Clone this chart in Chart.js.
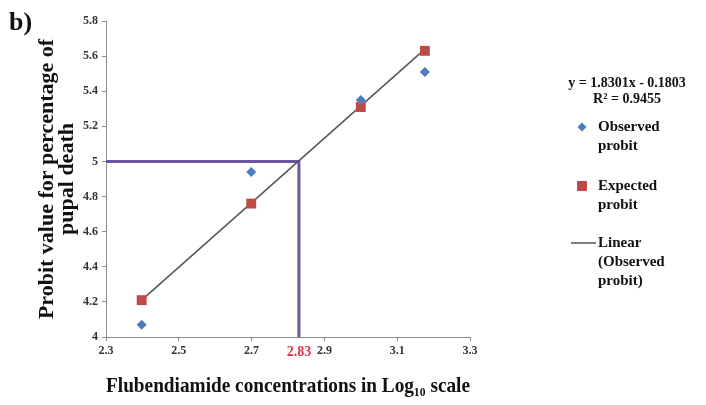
<!DOCTYPE html>
<html>
<head>
<meta charset="utf-8">
<script src="https://cdn.jsdelivr.net/npm/chart.js@4.4.0/dist/chart.umd.min.js"></script>
<style>
    html, body { margin: 0; padding: 0; background: #fff; }
    #wrap { width: 706px; height: 405px; position: relative; }
</style>
</head>
<body>
<div id="wrap"><canvas id="probitChart"></canvas></div>
<script>
// log10 of the flubendiamide concentrations
const logConc = [2.398, 2.699, 3.0, 3.176];
const observedProbit = [4.07, 4.94, 5.35, 5.51];
const expectedProbit = [4.21, 4.76, 5.31, 5.63];

// trend line end points (y = 1.8301x - 0.1803)
const trendX = [2.398, 3.176];
const trendY = [4.21, 5.64];

// LC50 read-off guide
const lc50X = [2.3, 2.83, 2.83];
const lc50Y = [5, 5, 4];
const lc50Label = 2.83;

const xTicks = [2.3, 2.5, 2.7, 2.9, 3.1, 3.3];

const equationText = ['y = 1.8301x - 0.1803', 'R² = 0.9455'];
const legendLabels = [['Observed', 'probit'], ['Expected', 'probit'], ['Linear', '(Observed', 'probit)']];

const serif = "'Liberation Serif', 'Times New Roman', serif";

const toPoints = (xs, ys) => xs.map((x, i) => ({ x: x, y: ys[i] }));

// hand drawn legend on the right, like the excel one
const sideLegend = {
    id: 'sideLegend',
    afterDraw(chart) {
        const ctx = chart.ctx;
        const ds = chart.data.datasets;
        const left = chart.chartArea.right + 100;
        ctx.save();
        ctx.fillStyle = '#111';
        ctx.textBaseline = 'middle';
        ctx.textAlign = 'center';
        ctx.font = 'bold 14px ' + serif;
        ctx.fillText(equationText[0], left + 57, 83);
        ctx.fillText(equationText[1], left + 57, 99);

        ctx.textAlign = 'left';
        ctx.font = 'bold 15px ' + serif;
        const rows = [127, 186, 243];
        rows.forEach((y, i) => {
            const d = ds[i];
            if (i === 0) {
                ctx.fillStyle = d.backgroundColor;
                ctx.beginPath();
                ctx.moveTo(left + 12, y - 4.5);
                ctx.lineTo(left + 16.5, y);
                ctx.lineTo(left + 12, y + 4.5);
                ctx.lineTo(left + 7.5, y);
                ctx.closePath();
                ctx.fill();
            } else if (i === 1) {
                ctx.fillStyle = d.backgroundColor;
                ctx.fillRect(left + 7, y - 5, 10, 10);
            } else {
                ctx.strokeStyle = d.borderColor;
                ctx.lineWidth = 1.5;
                ctx.beginPath();
                ctx.moveTo(left + 1, y);
                ctx.lineTo(left + 26, y);
                ctx.stroke();
            }
            ctx.fillStyle = '#111';
            legendLabels[i].forEach((t, j) => {
                ctx.fillText(t, left + 28, y + j * 19);
            });
        });

        ctx.font = 'bold 26px ' + serif;
        ctx.textAlign = 'left';
        ctx.fillText('b)', 9, 23);
        ctx.restore();
    }
};

const probitCtx = document.getElementById('probitChart').getContext('2d');
const probitChart = new Chart(probitCtx, {
    type: 'scatter',
    data: {
        datasets: [
            {
                label: 'Observed probit',
                data: toPoints(logConc, observedProbit),
                pointStyle: 'rectRot',
                pointRadius: 5,
                backgroundColor: '#4A7EBB',
                borderColor: '#4A7EBB',
                borderWidth: 0,
                order: 1
            },
            {
                label: 'Expected probit',
                data: toPoints(logConc, expectedProbit),
                pointStyle: 'rect',
                pointRadius: 7,
                backgroundColor: '#BE4B48',
                borderColor: '#BE4B48',
                borderWidth: 0,
                order: 2
            },
            {
                label: 'Linear (Observed probit)',
                type: 'line',
                data: toPoints(trendX, trendY),
                borderColor: '#555555',
                borderWidth: 1.5,
                pointRadius: 0,
                fill: false,
                order: 3
            },
            {
                label: 'LC50',
                type: 'line',
                data: toPoints(lc50X, lc50Y),
                borderColor: '#6E55A3',
                borderWidth: 3,
                pointRadius: 0,
                fill: false,
                order: 4
            }
        ]
    },
    options: {
        responsive: true,
        maintainAspectRatio: false,
        animation: false,
        layout: {
            padding: { left: 10, right: 236, top: 21, bottom: 6 }
        },
        scales: {
            x: {
                type: 'linear',
                min: 2.3,
                max: 3.3,
                afterBuildTicks: function(axis) {
                    const vals = xTicks.concat([lc50Label]).sort((a, b) => a - b);
                    axis.ticks = vals.map(v => ({ value: v }));
                },
                afterFit: function(scale) {
                    scale.height = 62;
                },
                border: { color: '#8C8C8C', width: 1 },
                grid: {
                    display: true,
                    drawOnChartArea: false,
                    tickLength: 4,
                    color: c => (c.tick && c.tick.value === lc50Label) ? 'rgba(0,0,0,0)' : '#8C8C8C'
                },
                ticks: {
                    autoSkip: false,
                    maxRotation: 0,
                    padding: 3,
                    callback: v => (v === lc50Label) ? v.toFixed(2) : v.toFixed(1),
                    color: c => (c.tick && c.tick.value === lc50Label) ? '#E0304A' : '#333',
                    font: c => (c.tick && c.tick.value === lc50Label)
                        ? { family: serif, size: 14, weight: 'bold' }
                        : { family: serif, size: 12, weight: 'bold' }
                },
                title: {
                    display: true,
                    text: 'Flubendiamide concentrations in Log₁₀ scale',
                    color: '#111',
                    font: { family: serif, size: 21, weight: 'bold' },
                    padding: { top: 14, bottom: 0 }
                }
            },
            y: {
                min: 4,
                max: 5.8,
                afterFit: function(scale) {
                    scale.width = 96;
                },
                border: { color: '#8C8C8C', width: 1 },
                grid: {
                    display: true,
                    drawOnChartArea: false,
                    tickLength: 4,
                    color: '#8C8C8C'
                },
                ticks: {
                    stepSize: 0.2,
                    padding: 4,
                    callback: v => String(parseFloat(v.toFixed(1))),
                    color: '#333',
                    font: { family: serif, size: 12, weight: 'bold' }
                },
                title: {
                    display: true,
                    text: ['Probit value for percentage of', 'pupal death'],
                    color: '#111',
                    font: { family: serif, size: 22, weight: 'bold', lineHeight: 0.92 },
                    padding: { top: 27, bottom: 4 }
                }
            }
        },
        plugins: {
            legend: { display: false },
            tooltip: { enabled: false }
        }
    },
    plugins: [sideLegend]
});
</script>
</body>
</html>
